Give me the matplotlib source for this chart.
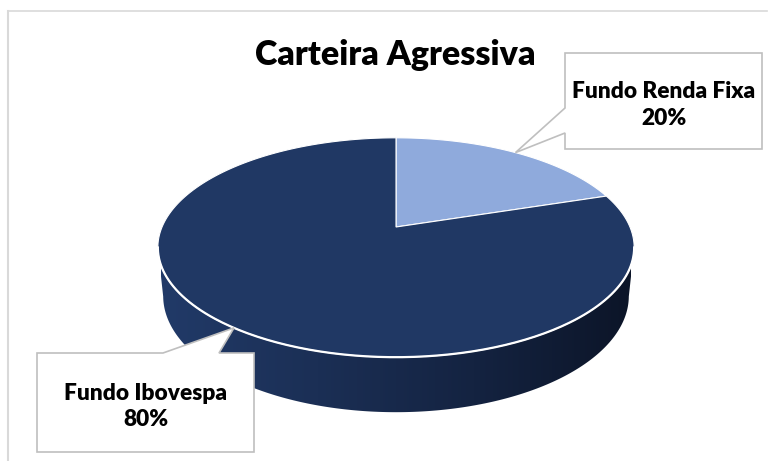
import matplotlib.pyplot as plt
import numpy as np
from matplotlib.patches import Polygon
from matplotlib.colors import LinearSegmentedColormap

# dados do grafico
titulo = 'Carteira Agressiva'
categorias = ['Fundo Renda Fixa', 'Fundo Ibovespa']
valores = [20, 80]
cores = ['#8FAADC', '#203864']

plt.rcParams['font.family'] = ['Lato', 'DejaVu Sans']

# projecao em perspectiva do "pie 3D" (coordenadas em pixels)
cx, cy = 396, 227
f, L = 1116, 4.77
elev = np.radians(26.9)
s, c = np.sin(elev), np.cos(elev)
altura = 0.234


def proj(X, Y, Z):
    depth = L - (Z * c + Y * s)
    u = f * X / depth
    v = f * (Y * c - Z * s) / depth
    return cx + u, cy - v


def rim(t0, t1, Y=0.0, n=200):
    t = np.radians(np.linspace(t0, t1, n))
    return proj(np.sin(t), Y, -np.cos(t))


fig = plt.figure(figsize=(7.72, 4.61), dpi=100)
ax = fig.add_axes([0, 0, 1, 1])
ax.set_xlim(0, 772)
ax.set_ylim(461, 0)
ax.axis('off')

# lateral do cilindro (gradiente)
ts = np.degrees(np.arccos(-c / L))
xt, yt = rim(ts, 360 - ts)
xb, yb = rim(ts, 360 - ts, Y=-altura)
lado = Polygon(np.column_stack([np.r_[xt, xb[::-1]], np.r_[yt, yb[::-1]]]),
               closed=True, facecolor='none', edgecolor='none')
ax.add_patch(lado)
cmap = LinearSegmentedColormap.from_list('lado', ['#213a68', '#1b2f55', '#142341', '#0c1528'])
grad = np.linspace(0, 1, 256)[None, :]
im = ax.imshow(grad, extent=[xb.min() - 2, xb.max() + 2, 420, 240], cmap=cmap,
               aspect='auto', zorder=1)
im.set_clip_path(lado)

# fatias do topo
angs = np.r_[0, np.cumsum(valores)] / sum(valores) * 360
for i, cor in enumerate(cores):
    xs, ys = rim(angs[i], angs[i + 1])
    poly = np.column_stack([np.r_[cx, xs], np.r_[cy, ys]])
    ax.add_patch(Polygon(poly, closed=True, facecolor=cor, edgecolor='white',
                         linewidth=0.8, zorder=2))

# borda frontal branca
ax.plot(xt, yt, color='white', linewidth=1.6, zorder=3)

# rotulos com balao
caixas = [
    dict(x0=565, x1=762, y0=53, y1=149, base='left', b0=108, b1=133),
    dict(x0=37, x1=254, y0=353, y1=452, base='top', b0=163, b1=219),
]
for i, cx_ in enumerate(caixas):
    meio = (angs[i] + angs[i + 1]) / 2
    px, py = proj(np.sin(np.radians(meio)), 0, -np.cos(np.radians(meio)))
    x0, x1, y0, y1 = cx_['x0'], cx_['x1'], cx_['y0'], cx_['y1']
    if cx_['base'] == 'left':
        pts = [(x0, y0), (x1, y0), (x1, y1), (x0, y1), (x0, cx_['b1']), (px, py), (x0, cx_['b0'])]
    else:
        pts = [(x0, y0), (cx_['b0'], y0), (px, py), (cx_['b1'], y0), (x1, y0), (x1, y1), (x0, y1)]
    ax.add_patch(Polygon(pts, closed=True, facecolor='white', edgecolor='#BFBFBF',
                         linewidth=1.2, zorder=4))
    ax.text((x0 + x1) / 2, (y0 + y1) / 2 + 4, f'{categorias[i]}\n{valores[i]}%',
            ha='center', va='center', fontsize=16.3, fontweight='heavy',
            linespacing=1.3, color='black', zorder=5)

ax.text(395, 55, titulo, ha='center', va='center', fontsize=24.5, fontweight='heavy', zorder=5)

# moldura
ax.plot([7.5, 767], [11.5, 11.5], color='#D9D9D9', linewidth=1.2)
ax.plot([7.5, 7.5], [11.5, 461], color='#D9D9D9', linewidth=1.5)

fig.savefig('out.png', dpi=100)
